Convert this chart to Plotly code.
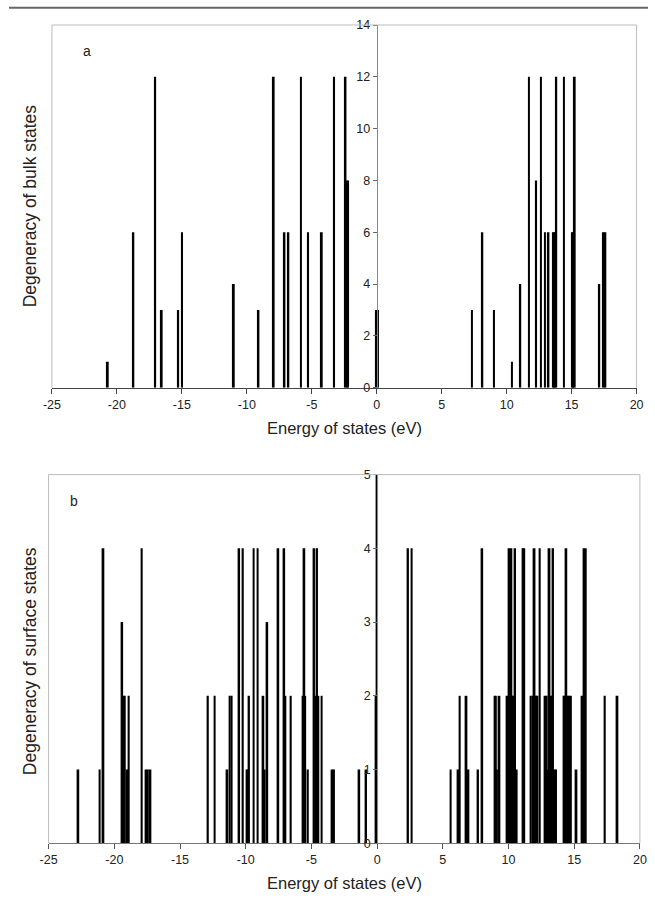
import plotly.graph_objects as go

W, H = 655, 899

# ---------------- data ----------------
bulk_energy = [-20.7, -18.73, -17.05, -16.55, -15.28, -14.98, -11.0, -9.1, -7.93, -7.1,
               -6.8, -5.83, -5.28, -4.23, -3.28, -2.4, -2.3, -2.2, -0.06, 0.02,
               0.1, 7.33, 8.13, 9.03, 10.4, 11.05, 11.72, 12.27, 12.64, 12.94,
               13.22, 13.63, 13.7, 13.82, 14.41, 15.06, 15.13, 15.24, 17.13, 17.47,
               17.6]
bulk_deg = [1, 6, 12, 3, 3, 6, 4, 3, 12, 6,
            6, 12, 6, 6, 12, 12, 8, 8, 3, 3,
            3, 3, 6, 3, 1, 4, 12, 8, 12, 6,
            6, 6, 6, 12, 12, 6, 6, 12, 4, 6,
            6]

surf_energy = [-22.74, -21.11, -20.83, -19.40, -19.30, -19.20, -19.00, -18.90, -17.91, -17.57,
               -17.45, -17.25, -12.88, -12.37, -11.40, -11.21, -11.07, -10.50, -10.22, -9.93,
               -9.84, -9.75, -9.40, -9.10, -8.66, -8.56, -8.36, -7.52, -7.07, -6.98,
               -6.57, -5.63, -5.54, -5.47, -5.27, -4.80, -4.66, -4.57, -4.47, -4.23,
               -3.40, -3.28, -1.36, -0.84, -0.10, 0.0, 2.35, 2.63, 5.60, 6.17,
               6.29, 6.80, 6.95, 7.68, 8.00, 8.96, 9.04, 9.12, 9.31, 9.88,
               10.0, 10.06, 10.22, 10.35, 10.44, 10.50, 10.62, 11.10, 11.20, 11.70,
               11.83, 11.98, 12.10, 12.20, 12.38, 12.80, 12.90, 13.00, 13.12, 13.20,
               13.30, 13.39, 13.50, 13.62, 14.22, 14.33, 14.40, 14.50, 14.62, 14.75,
               15.17, 15.62, 15.75, 15.88, 17.33, 18.29]
surf_deg = [1, 1, 4, 3, 2, 2, 1, 2, 4, 1,
            1, 1, 2, 2, 1, 2, 2, 4, 4, 1,
            1, 2, 4, 4, 2, 1, 3, 4, 4, 2,
            2, 2, 4, 2, 1, 4, 2, 4, 2, 2,
            1, 1, 1, 1, 2, 5, 4, 4, 1, 1,
            2, 2, 1, 1, 4, 2, 2, 1, 2, 2,
            2, 4, 4, 2, 2, 4, 1, 4, 4, 2,
            2, 4, 2, 2, 4, 2, 2, 1, 4, 2,
            2, 4, 1, 1, 2, 2, 4, 2, 2, 2,
            1, 2, 4, 4, 2, 2]

x_ticks = [-25, -20, -15, -10, -5, 0, 5, 10, 15, 20]
x_ticktext = ["-25", "-20", "-15", "-10", "-5", "0", "5", "10", "15", "20"]
bulk_yticks = [0, 2, 4, 6, 8, 10, 12, 14]
surf_yticks = [0, 1, 2, 3, 4, 5]

x_title = "Energy of states (eV)"
bulk_ytitle = "Degeneracy of bulk states"
surf_ytitle = "Degeneracy of surface states"

# ---------------- layout geometry (pixels) ----------------
def px_x(p):
    return p / W

def px_y(p):
    return 1 - p / H

a_x = [px_x(44), px_x(643.3)]
a_y = [px_y(386.7), px_y(18.3)]
b_x = [px_x(40.6), px_x(646.7)]
b_y = [px_y(849.5), px_y(475)]

XMIN, XMAX = -25, 20
FONT = "Liberation Sans, Arial, sans-serif"
BAR_W = 0.14

fig = go.Figure()
fig.add_trace(go.Bar(x=bulk_energy, y=bulk_deg, width=BAR_W, marker=dict(color="black", line_width=0),
                     xaxis="x", yaxis="y", showlegend=False))
fig.add_trace(go.Bar(x=surf_energy, y=surf_deg, width=BAR_W, marker=dict(color="black", line_width=0),
                     xaxis="x2", yaxis="y2", showlegend=False))

def ypos(dom):
    return dom[0] + (0 - XMIN) / (XMAX - XMIN) * (dom[1] - dom[0])

tickfont = dict(family=FONT, size=12.5, color="#222")

fig.update_layout(
    width=W, height=H,
    margin=dict(l=0, r=0, t=0, b=0),
    paper_bgcolor="white", plot_bgcolor="white",
    barmode="overlay",
    xaxis=dict(domain=a_x, range=[XMIN, XMAX], anchor="y", tickvals=x_ticks, ticktext=x_ticktext,
               ticks="outside", ticklen=5, tickcolor="#444", showline=True, linecolor="#444",
               linewidth=1, showgrid=False, zeroline=False, tickfont=tickfont),
    yaxis=dict(domain=a_y, range=[0, 14], anchor="free", position=ypos(a_x), tickvals=bulk_yticks,
               ticks="outside", ticklen=4, tickcolor="#666", showline=True, linecolor="#888",
               linewidth=1, showgrid=False, zeroline=False, tickfont=tickfont),
    xaxis2=dict(domain=b_x, range=[XMIN, XMAX], anchor="y2", tickvals=x_ticks, ticktext=x_ticktext,
                ticks="outside", ticklen=5, tickcolor="#555", showline=True, linecolor="#777",
                linewidth=1, showgrid=False, zeroline=False, tickfont=tickfont),
    yaxis2=dict(domain=b_y, range=[0, 5], anchor="free", position=ypos(b_x), tickvals=surf_yticks,
                ticks="outside", ticklen=4, tickcolor="#666", showline=True, linecolor="#888",
                linewidth=1, showgrid=False, zeroline=False, tickfont=tickfont),
)

shapes = []
for dx, dy in [(a_x, a_y), (b_x, b_y)]:
    shapes.append(dict(type="line", xref="paper", yref="paper", x0=dx[0], x1=dx[0], y0=dy[0], y1=dy[1],
                       line=dict(color="#bbbbbb", width=1)))
    shapes.append(dict(type="line", xref="paper", yref="paper", x0=dx[1], x1=dx[1], y0=dy[0], y1=dy[1],
                       line=dict(color="#bbbbbb", width=1)))
    shapes.append(dict(type="line", xref="paper", yref="paper", x0=dx[0], x1=dx[1], y0=dy[1], y1=dy[1],
                       line=dict(color="#bbbbbb", width=1)))
shapes.append(dict(type="line", xref="paper", yref="paper", x0=0, x1=1, y0=px_y(0.8), y1=px_y(0.8),
                   line=dict(color="#666", width=2)))
fig.update_layout(shapes=shapes)

xtitlefont = dict(family=FONT, size=16.5, color="#222")
ytitlefont = dict(family=FONT, size=17.5, color="#222")
ann = [
    dict(text=x_title, x=(a_x[0] + a_x[1]) / 2, y=px_y(428), xref="paper", yref="paper",
         showarrow=False, font=xtitlefont, xanchor="center", yanchor="middle"),
    dict(text=x_title, x=(b_x[0] + b_x[1]) / 2, y=px_y(890), xref="paper", yref="paper",
         showarrow=False, font=xtitlefont, xanchor="center", yanchor="middle"),
    dict(text=bulk_ytitle, x=px_x(21), y=px_y(202), xref="paper", yref="paper", textangle=-90,
         showarrow=False, font=ytitlefont, xanchor="center", yanchor="middle"),
    dict(text=surf_ytitle, x=px_x(21), y=px_y(664), xref="paper", yref="paper", textangle=-90,
         showarrow=False, font=ytitlefont, xanchor="center", yanchor="middle"),
    dict(text="a", x=px_x(80), y=px_y(45), xref="paper", yref="paper", showarrow=False,
         font=dict(family=FONT, size=14, color="#222"), xanchor="center", yanchor="middle"),
    dict(text="b", x=px_x(67), y=px_y(502), xref="paper", yref="paper", showarrow=False,
         font=dict(family=FONT, size=14, color="#222"), xanchor="center", yanchor="middle"),
]
fig.update_layout(annotations=ann)

fig.write_html("out.html")
